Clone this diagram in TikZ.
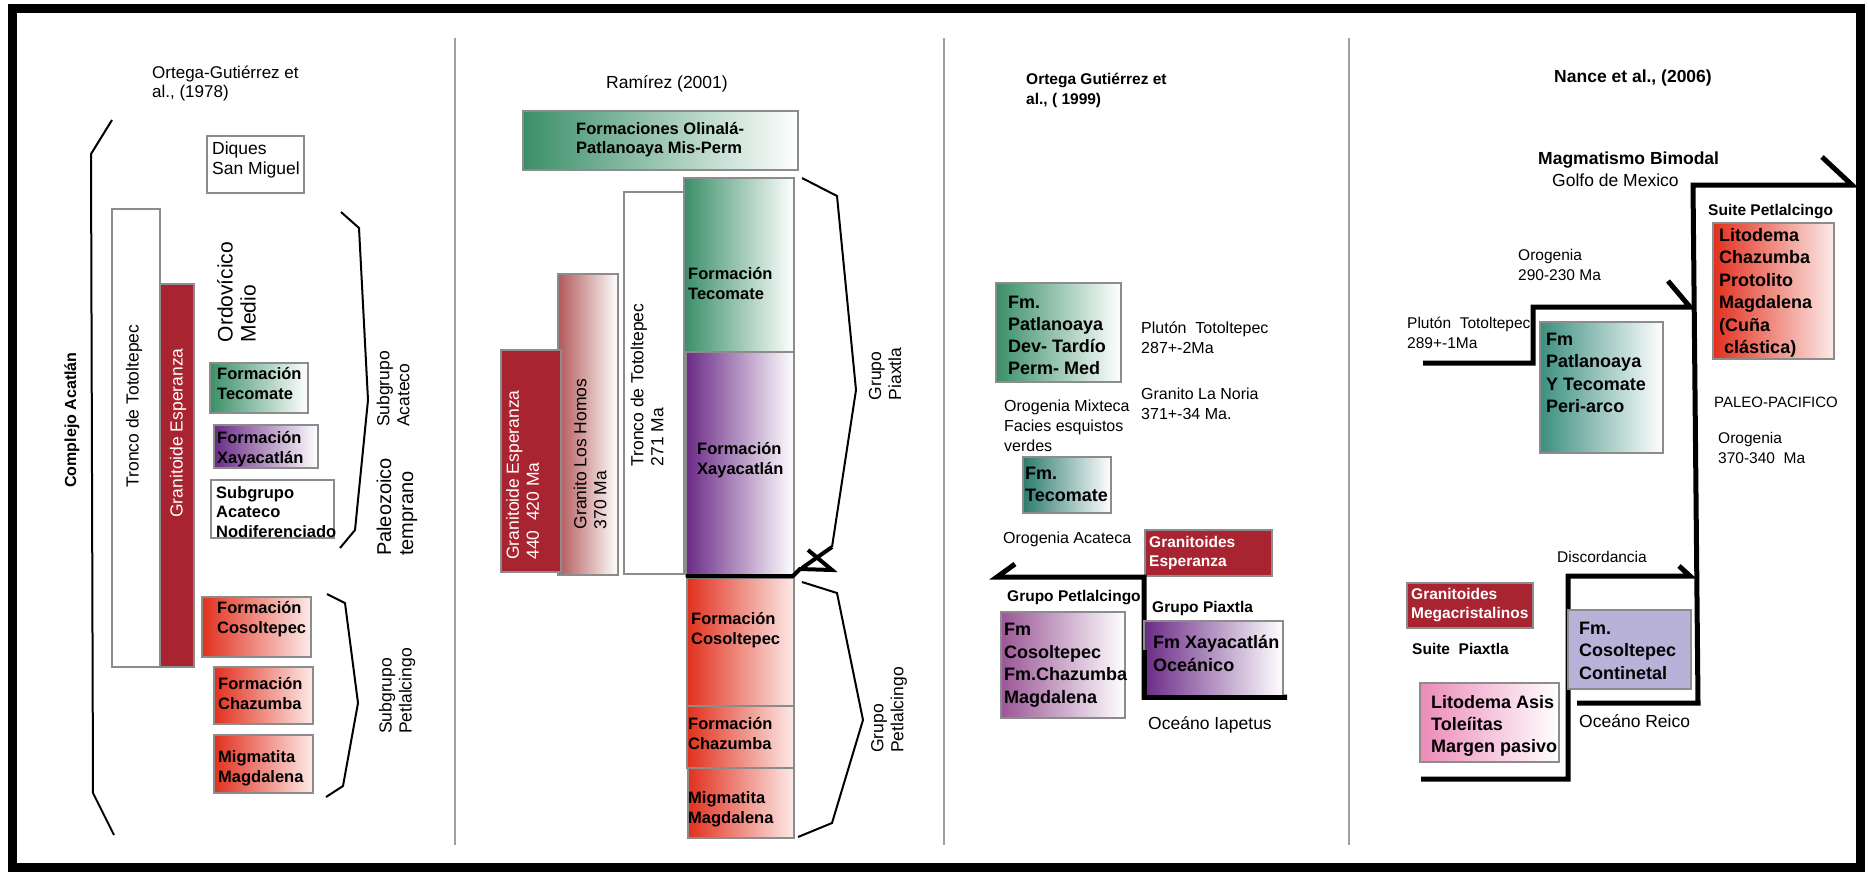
\documentclass[tikz,border=0pt]{standalone}
\usepackage{fontspec}
\setmainfont{Liberation Sans}
\newcommand{\myfs}[2]{\fontsize{#1pt}{#2pt}\selectfont}
\definecolor{dred}{RGB}{168,36,48}
\definecolor{grn}{RGB}{58,143,104}
\definecolor{teal1}{RGB}{45,123,111}
\definecolor{teal2}{RGB}{60,143,128}
\definecolor{purp}{RGB}{106,42,134}
\definecolor{mauve}{RGB}{154,86,150}
\definecolor{redg}{RGB}{226,48,30}
\definecolor{brn}{RGB}{178,88,90}
\definecolor{pink1}{RGB}{236,138,184}
\definecolor{lav}{RGB}{184,178,216}
\definecolor{sepc}{RGB}{160,160,160}
\definecolor{bord}{RGB}{140,140,140}
\newcommand{\bxx}[6]{\node[bx,minimum width=#4pt,minimum height=#5pt,#6] (#1) at (#2,#3) {};}
\begin{document}
\begin{tikzpicture}[x=1pt,y=-1pt,
  bx/.style={draw=bord,line width=1.2pt,inner sep=0pt,outer sep=0pt,anchor=north west},
  tx/.style={inner sep=0pt,anchor=base west,align=left},
  rt/.style={inner sep=0pt,anchor=center,align=left,rotate=90},
  brk/.style={line width=2pt,line join=miter},
  thk/.style={line width=5pt,line join=miter},
  gr/.style={left color=grn,right color=white},
  pu/.style={left color=purp,right color=white},
  rd/.style={left color=redg,right color=white!90!redg},
  dr/.style={fill=dred},
  wt/.style={fill=white}]
\useasboundingbox (0,0) rectangle (1868,871);
% frame and separators
\draw[line width=9pt] (12,8) rectangle (1860,867);
\foreach \xx in {455,944,1349} \draw[sepc,line width=2pt] (\xx,38) -- (\xx,845);

% ===== Panel 1 =====
\node[tx,font=\myfs{17}{19}] (title1) at (152,97) {Ortega-Gutiérrez et\\al., (1978)};
\draw[brk] (112,120) -- (91,154) -- (93,793) -- (114,835);
\node[rt,font=\myfs{16}{19}\bfseries] (compl) at (72,420) {Complejo Acatlán};
\bxx{tronA}{112}{209}{48}{458}{wt}
\bxx{espA}{160}{284}{34}{383}{dr}
\node[rt,font=\myfs{17.5}{20}] (tronAT) at (134,406) {Tronco de Totoltepec};
\node[rt,font=\myfs{17.5}{20},text=white] (espAT) at (178,433) {Granitoide Esperanza};
\bxx{diq}{207}{136}{97}{57}{wt}
\node[tx,font=\myfs{17.5}{20}] (diqT) at (212,174) {Diques\\San Miguel};
\node[rt,font=\myfs{21}{23}] (ordT) at (236.5,292) {Ordovícico\\Medio};
\bxx{tecA}{210}{363}{98}{50}{gr}
\node[tx,font=\myfs{16.5}{20}\bfseries] (tecAT) at (217,399) {Formación\\Tecomate};
\bxx{xayA}{214}{425}{104}{43}{pu}
\node[tx,font=\myfs{16.5}{20}\bfseries] (xayAT) at (217,463) {Formación\\Xayacatlán};
\bxx{subA}{211}{480}{123}{58}{wt}
\node[tx,font=\myfs{16.5}{19.5}\bfseries] (subAT) at (216,537) {Subgrupo\\Acateco\\Nodiferenciado};
\bxx{cosA}{202}{597}{109}{60}{rd}
\node[tx,font=\myfs{16.5}{20}\bfseries] (cosAT) at (217,633) {Formación\\Cosoltepec};
\bxx{chaA}{214}{667}{99}{57}{rd}
\node[tx,font=\myfs{16.5}{20}\bfseries] (chaAT) at (218,709) {Formación\\Chazumba};
\bxx{migA}{214}{735}{99}{58}{rd}
\node[tx,font=\myfs{16.5}{20}\bfseries] (migAT) at (218,782) {Migmatita\\Magdalena};
\draw[brk] (341,212) -- (359,228) -- (368,400) -- (355,530) -- (340,548);
\draw[brk] (327,594) -- (345,603) -- (358,703) -- (343,786) -- (326,797);
\node[rt,font=\myfs{17.5}{20}] (acaT) at (393,389) {Subgrupo\\Acateco};
\node[rt,font=\myfs{20}{22}] (paleoT) at (397,507) {Paleozoico\\temprano};
\node[rt,font=\myfs{17.5}{20}] (petAT) at (397,691) {Subgrupo\\Petlalcingo};

% ===== Panel 2 =====
\node[inner sep=0pt,anchor=base,font=\myfs{17.5}{20}] (title2) at (667,88) {Ramírez (2001)};
\bxx{oli}{523}{111}{275}{59}{gr}
\node[tx,font=\myfs{16.5}{19}\bfseries] (oliT) at (576,153) {Formaciones Olinalá-\\Patlanoaya Mis-Perm};
\bxx{tecB}{684}{178}{110}{174}{gr}
\node[tx,font=\myfs{16.5}{20}\bfseries] (tecBT) at (688,299) {Formación\\Tecomate};
\bxx{tronB}{624}{192}{60}{382}{wt}
\node[rt,font=\myfs{17.5}{20}] (tronBT) at (647,385) {Tronco de Totoltepec\\271 Ma};
\bxx{homB}{558}{274}{60}{301}{left color=brn,right color=white}
\node[rt,font=\myfs{17.5}{20}] (homBT) at (590,454) {Granito Los Homos\\370 Ma};
\bxx{espB}{501}{350}{60}{222}{dr}
\node[rt,font=\myfs{17.5}{20},text=white] (espBT) at (522.5,475) {Granitoide Esperanza\\440\ \ 420 Ma};
\bxx{xayB}{686}{352}{108}{224}{pu}
\node[tx,font=\myfs{16.5}{20}\bfseries] (xayBT) at (697,474) {Formación\\Xayacatlán};
\bxx{cosB}{687}{578}{107}{128}{rd}
\node[tx,font=\myfs{16.5}{20}\bfseries] (cosBT) at (691,644) {Formación\\Cosoltepec};
\bxx{chaB}{687}{706}{107}{62}{rd}
\node[tx,font=\myfs{16.5}{20}\bfseries] (chaBT) at (688,749) {Formación\\Chazumba};
\bxx{migB}{688}{768}{106}{70}{rd}
\node[tx,font=\myfs{16.5}{20}\bfseries] (migBT) at (688,823) {Migmatita\\Magdalena};
\draw[brk] (802,178) -- (837,196) -- (856,390) -- (832,547);
\draw[line width=4pt] (832,547) -- (802,568);
\draw[line width=4pt,line join=miter] (686,576) -- (793,576) -- (800,569) -- (832,570) -- (808,550);
\draw[brk] (802,582) -- (837,593) -- (863,720) -- (832,823) -- (798,837);
\node[rt,font=\myfs{17.5}{20}] (piaxT) at (885,374) {Grupo\\Piaxtla};
\node[rt,font=\myfs{17.5}{20}] (petBT) at (889,710) {Grupo\\Petlalcingo};

% ===== Panel 3 =====
\node[tx,font=\myfs{15.5}{20}\bfseries] (title3) at (1026,104) {Ortega Gutiérrez et\\al., ( 1999)};
\bxx{patC}{996}{283}{125}{99}{gr}
\node[tx,font=\myfs{18}{22}\bfseries] (patCT) at (1008,374.5) {Fm.\\Patlanoaya\\Dev- Tardío\\Perm- Med};
\node[tx,font=\myfs{16}{20}] (plutC) at (1141,353) {Plutón\ \ Totoltepec\\287+-2Ma};
\node[tx,font=\myfs{16}{20}] (norC) at (1141,419) {Granito La Noria\\371+-34 Ma.};
\node[tx,font=\myfs{16}{20}] (mixC) at (1004,451) {Orogenia Mixteca\\Facies esquistos\\verdes};
\bxx{tecC}{1023}{457}{88}{56}{left color=teal1,right color=white}
\node[tx,font=\myfs{18}{22}\bfseries] (tecCT) at (1025,501.5) {Fm.\\Tecomate};
\node[tx,font=\myfs{16}{20}] (acaC) at (1003,543) {Orogenia Acateca};
\bxx{espC}{1145}{530}{127}{46}{dr}
\node[tx,font=\myfs{15.5}{19}\bfseries,text=white] (espCT) at (1149,566.5) {Granitoides\\Esperanza};
\draw[thk] (1015,564) -- (997,577) -- (1144,577) -- (1144,697) -- (1287,697);
\node[tx,font=\myfs{15.5}{19}\bfseries] (gpet) at (1007,601.5) {Grupo Petlalcingo};
\node[tx,font=\myfs{15.5}{19}\bfseries] (gpia) at (1152,612.5) {Grupo Piaxtla};
\bxx{cosC}{1001}{612}{124}{106}{left color=mauve,right color=white}
\node[tx,font=\myfs{18}{22.5}\bfseries] (cosCT) at (1004,703) {Fm\\Cosoltepec\\Fm.Chazumba\\Magdalena};
\bxx{xayC}{1144}{621}{139}{76}{pu}
\node[tx,font=\myfs{18}{23}\bfseries] (xayCT) at (1153,671.5) {Fm Xayacatlán\\Oceánico};
\draw[thk] (1144,650) -- (1144,697) -- (1287,697);
\node[tx,font=\myfs{17.5}{20}] (iap) at (1148,729) {Oceáno Iapetus};

% ===== Panel 4 =====
\node[inner sep=0pt,anchor=base,font=\myfs{17.5}{20}\bfseries] (title4) at (1633,82) {Nance et al., (2006)};
\node[tx,font=\myfs{17.5}{20}\bfseries] (magm) at (1538,164) {Magmatismo Bimodal};
\node[tx,font=\myfs{17.5}{20}] (golfo) at (1552,186) {Golfo de Mexico};
\draw[thk] (1822,157) -- (1852,185) -- (1693,185) -- (1698,703) -- (1577,703);
\draw[thk] (1423,363) -- (1533,363) -- (1533,307) -- (1690,307) -- (1668,281);
\draw[thk] (1421,779) -- (1568,779) -- (1568,576) -- (1690,576) -- (1679,566);
\node[tx,font=\myfs{15.5}{19}\bfseries] (spet) at (1708,215.5) {Suite Petlalcingo};
\bxx{litD}{1713}{223}{121}{136}{rd}
\node[tx,font=\myfs{18}{22.4}\bfseries] (litDT) at (1719,353.5) {Litodema\\Chazumba\\Protolito\\Magdalena\\(Cuña\\\hspace*{5pt}clástica)};
\node[tx,font=\myfs{15.5}{20}] (oro1) at (1518,280.5) {Orogenia\\290-230 Ma};
\node[tx,font=\myfs{15.5}{20}] (plutD) at (1407,348.5) {Plutón\ \ Totoltepec\\289+-1Ma};
\bxx{patD}{1540}{322}{123}{131}{left color=teal2,right color=white}
\node[tx,font=\myfs{18}{22.3}\bfseries] (patDT) at (1546,412.4) {Fm\\Patlanoaya\\Y Tecomate\\Peri-arco};
\node[tx,font=\myfs{15}{20}] (paleoP) at (1714,407.5) {PALEO-PACIFICO};
\node[tx,font=\myfs{15.5}{20}] (oro2) at (1718,463.5) {Orogenia\\370-340\ \ Ma};
\node[tx,font=\myfs{15.5}{20}] (disc) at (1557,562.5) {Discordancia};
\bxx{megD}{1407}{583}{126}{45}{dr}
\node[tx,font=\myfs{15.5}{19}\bfseries,text=white] (megDT) at (1411,618.5) {Granitoides\\Megacristalinos};
\node[tx,font=\myfs{15.5}{19}\bfseries] (spia) at (1412,654.5) {Suite\ \ Piaxtla};
\bxx{cosD}{1568}{610}{123}{79}{fill=lav}
\node[tx,font=\myfs{18}{22.3}\bfseries] (cosDT) at (1579,679.1) {Fm.\\Cosoltepec\\Continetal};
\node[tx,font=\myfs{17.5}{20}] (reico) at (1579,727) {Oceáno Reico};
\bxx{asiD}{1420}{683}{139}{79}{left color=pink1,right color=white}
\node[tx,font=\myfs{18}{22}\bfseries] (asiDT) at (1431,752.5) {Litodema Asis\\Toleíitas\\Margen pasivo};
\end{tikzpicture}
\end{document}
